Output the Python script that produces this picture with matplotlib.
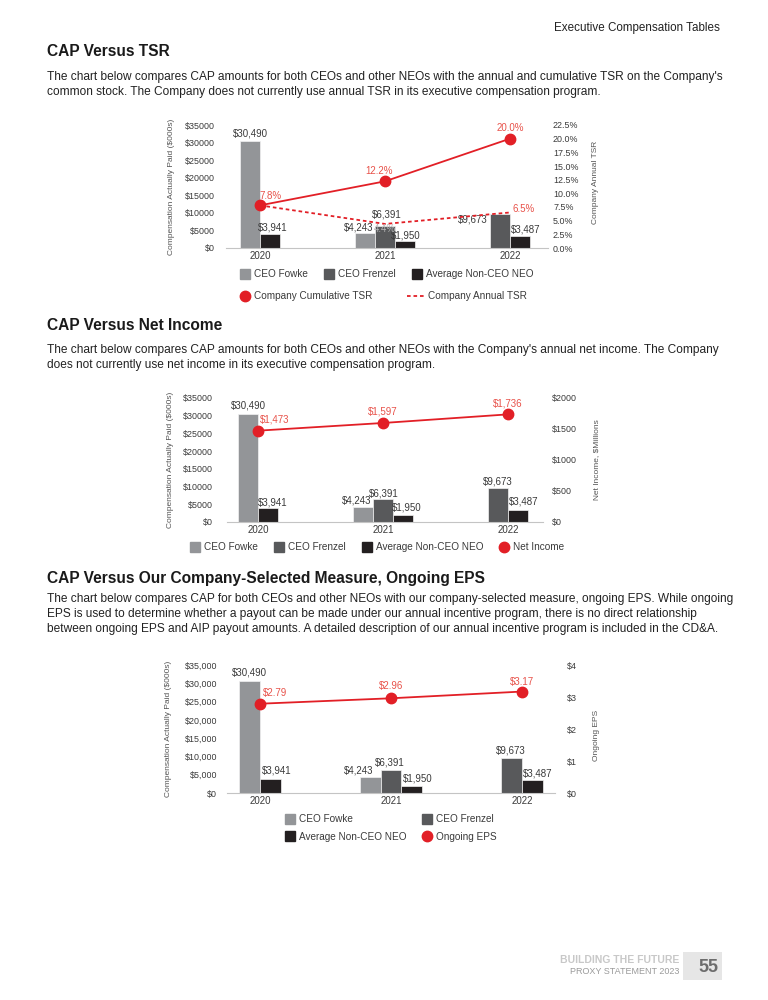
"""
CAP versus TSR / Net Income / Ongoing EPS - proxy statement page.
"""

import matplotlib
matplotlib.use("Agg")
import matplotlib.pyplot as plt
from matplotlib.lines import Line2D
from matplotlib.ticker import FuncFormatter
from matplotlib.transforms import blended_transform_factory
import numpy as np

# ---- data ----
years = ["2020", "2021", "2022"]
ceo_fowke = [30490, 4243, None]
ceo_frenzel = [None, 6391, 9673]
avg_non_ceo = [3941, 1950, 3487]

tsr_cumulative = [7.8, 12.2, 20.0]
tsr_annual = [7.8, 4.4, 6.5]
net_income = [1473, 1597, 1736]
ongoing_eps = [2.79, 2.96, 3.17]

# ---- style ----
C_FOWKE = "#939598"
C_FRENZEL = "#58595b"
C_NEO = "#231f20"
C_RED = "#e21f26"
C_RED_TXT = "#e8524a"
C_TXT = "#3a3a3a"
C_AXIS = "#c4c4c4"

plt.rcParams["font.family"] = ["Liberation Sans", "DejaVu Sans"]

FIG_W, FIG_H = 768, 1000
BAR_W = 0.16
SERIES = [
    ("CEO Fowke", ceo_fowke, C_FOWKE),
    ("CEO Frenzel", ceo_frenzel, C_FRENZEL),
    ("Average Non-CEO NEO", avg_non_ceo, C_NEO),
]


def pt(px):
    return px * 72 / 100


def px_rect(x0, x1, ytop, ybot):
    return [x0 / FIG_W, 1 - ybot / FIG_H, (x1 - x0) / FIG_W, (ybot - ytop) / FIG_H]


def fx(px):
    return px / FIG_W


def fy(py):
    return 1 - py / FIG_H


def setup_axes(fig, rect, xlim, left_fmt, left_pad, ylabel_x):
    ax = fig.add_axes(rect)
    ax.set_facecolor("none")
    ax.set_xlim(*xlim)
    ax.set_ylim(0, 35000)
    ax.set_yticks(np.arange(0, 35001, 5000))
    ax.yaxis.set_major_formatter(FuncFormatter(left_fmt))
    ax.set_xticks(np.arange(len(years)))
    ax.set_xticklabels(years)
    for s in ["top", "left", "right"]:
        ax.spines[s].set_visible(False)
    ax.spines["bottom"].set_color(C_AXIS)
    ax.spines["bottom"].set_linewidth(0.8)
    ax.tick_params(axis="x", length=0, pad=2, labelsize=7, labelcolor=C_TXT)
    ax.tick_params(axis="y", length=0, pad=pt(left_pad), labelsize=6.4, labelcolor=C_TXT)
    ax.set_ylabel("Compensation Actually Paid ($000s)", fontsize=6, color="#555555")
    ax.yaxis.set_label_coords(fx(ylabel_x), 0.5,
                              transform=blended_transform_factory(fig.transFigure, ax.transAxes))
    return ax


def draw_bars(ax, shifts):
    x = np.arange(len(years))
    for j in range(len(years)):
        present = [i for i, s in enumerate(SERIES) if s[1][j] is not None]
        n = len(present)
        for k, i in enumerate(present):
            v = SERIES[i][1][j]
            xpos = x[j] + (k - (n - 1) / 2) * BAR_W
            ax.bar(xpos, v, BAR_W, color=SERIES[i][2], edgecolor="#f2f2f2",
                   linewidth=0.5, zorder=2)
            dx, dy = shifts.get((i, j), (0, 0))
            ax.annotate(f"${v:,}", (xpos, v), xytext=(pt(dx), pt(7 + dy)),
                        textcoords="offset points", ha="center", va="center",
                        fontsize=7, color=C_TXT, zorder=5)


def setup_right(ax, ylim, ticks, fmt, pad, label, label_x, label_y=0.5):
    ax2 = ax.twinx()
    ax2.set_ylim(*ylim)
    ax2.set_yticks(ticks)
    ax2.yaxis.set_major_formatter(FuncFormatter(fmt))
    for s in ax2.spines.values():
        s.set_visible(False)
    ax2.tick_params(axis="y", length=0, pad=pt(pad), labelsize=6.4, labelcolor=C_TXT)
    ax2.set_ylabel(label, fontsize=6, color="#555555")
    ax2.yaxis.set_label_coords(fx(label_x), label_y,
                               transform=blended_transform_factory(ax.figure.transFigure, ax.transAxes))
    return ax2


def label_points(ax, values, fmt, offsets, color=C_RED_TXT):
    for j, v in enumerate(values):
        if offsets[j] is None:
            continue
        dx, dy, c = offsets[j] if len(offsets[j]) == 3 else (*offsets[j], color)
        ax.annotate(fmt(v), (j, v), xytext=(pt(dx), pt(dy)), textcoords="offset points",
                    ha="center", va="center", fontsize=7, color=c, zorder=6)


def sq(c):
    return Line2D([], [], marker="s", ls="none", color=c, markersize=7.5)


def dot():
    return Line2D([], [], marker="o", ls="none", color=C_RED, markersize=7.5)


def add_legend(fig, handles, labels, x, y, ncol, colspace, rowspace=0.5, hlen=1.0):
    fig.legend(handles, labels, loc="center left", bbox_to_anchor=(fx(x), fy(y)),
               bbox_transform=fig.transFigure, ncol=ncol, frameon=False,
               fontsize=7.2, labelcolor=C_TXT, handlelength=hlen, handletextpad=0.4,
               columnspacing=colspace, labelspacing=rowspace, borderaxespad=0,
               borderpad=0)


fig = plt.figure(figsize=(FIG_W / 100, FIG_H / 100), dpi=100)
fig.patch.set_facecolor("white")

# ---- page text ----
fig.text(fx(720), fy(28), "Executive Compensation Tables", ha="right", va="center",
         fontsize=8.4, color="#222222")

headings = [
    (52, "CAP Versus TSR"),
    (325, "CAP Versus Net Income"),
    (578, "CAP Versus Our Company-Selected Measure, Ongoing EPS"),
]
for y, t in headings:
    fig.text(fx(47), fy(y), t, ha="left", va="center", fontsize=11.2,
             fontweight="bold", color="#1a1a1a")

paragraphs = [
    (77, ["The chart below compares CAP amounts for both CEOs and other NEOs with the annual and cumulative TSR on the Company's",
          "common stock. The Company does not currently use annual TSR in its executive compensation program."]),
    (350, ["The chart below compares CAP amounts for both CEOs and other NEOs with the Company's annual net income. The Company",
           "does not currently use net income in its executive compensation program."]),
    (599, ["The chart below compares CAP for both CEOs and other NEOs with our company-selected measure, ongoing EPS. While ongoing",
           "EPS is used to determine whether a payout can be made under our annual incentive program, there is no direct relationship",
           "between ongoing EPS and AIP payout amounts. A detailed description of our annual incentive program is included in the CD&A."]),
]
for y0, lines in paragraphs:
    for k, line in enumerate(lines):
        fig.text(fx(47), fy(y0 + 14.8 * k), line, ha="left", va="center",
                 fontsize=8.6, color="#222222")

x = np.arange(len(years))

# ---- chart 1: CAP vs TSR ----
ax1 = setup_axes(fig, px_rect(226, 548, 125, 248), (-0.272, 2.304),
                 lambda v, p: f"${v:.0f}", 11, 175)
draw_bars(ax1, {(2, 0): (3, 0), (0, 1): (-6, -1), (1, 1): (2, 4.5), (2, 1): (1, -1),
                (1, 2): (-27, -12), (2, 2): (6, -1)})
ax1r = setup_right(ax1, (0, 22.5), np.arange(0, 22.51, 2.5), lambda v, p: f"{v:.1f}%",
                   5, "Company Annual TSR", 592, 0.53)
ax1r.plot(x, tsr_annual, color=C_RED, lw=1.3, ls=(0, (2, 1.6)), zorder=3)
ax1r.plot(x, tsr_cumulative, color=C_RED, lw=1.3, marker="o", markersize=7.5, zorder=4)
label_points(ax1r, tsr_cumulative, lambda v: f"{v:.1f}%", [(11, 9), (-6, 10), (0, 11)])
label_points(ax1r, tsr_annual, lambda v: f"{v:.1f}%", [None, (0, -5, "#b5b5b5"), (14, 3)])

add_legend(fig, [sq(C_FOWKE), sq(C_FRENZEL), sq(C_NEO)],
           ["CEO Fowke", "CEO Frenzel", "Average Non-CEO NEO"], 240, 274, 3, 1.6)
add_legend(fig, [dot()], ["Company Cumulative TSR"], 240, 296, 1, 1.0)
add_legend(fig, [Line2D([], [], color=C_RED, lw=1.3, ls=(0, (2, 1.6)))],
           ["Company Annual TSR"], 407, 296, 1, 1.0, hlen=1.7)

# ---- chart 2: CAP vs Net Income ----
ax2 = setup_axes(fig, px_rect(227, 543, 398, 522), (-0.248, 2.28),
                 lambda v, p: f"${v:.0f}", 14, 174)
draw_bars(ax2, {(0, 0): (0, 1), (2, 0): (5, -1), (0, 1): (-6, -1), (1, 1): (1, -1),
                (2, 1): (4, 1), (1, 2): (0, -1), (2, 2): (6, 1)})
ax2r = setup_right(ax2, (0, 2000), np.arange(0, 2001, 500), lambda v, p: f"${v:.0f}",
                   9, "Net Income, $Millions", 593, 0.5)
ax2r.plot(x, net_income, color=C_RED, lw=1.3, marker="o", markersize=7.5, zorder=4)
label_points(ax2r, net_income, lambda v: f"${v:,}", [(17, 11), (0, 11), (0, 11)])

add_legend(fig, [sq(C_FOWKE), sq(C_FRENZEL), sq(C_NEO), dot()],
           ["CEO Fowke", "CEO Frenzel", "Average Non-CEO NEO", "Net Income"],
           190, 547, 4, 1.6)

# ---- chart 3: CAP vs Ongoing EPS ----
ax3 = setup_axes(fig, px_rect(227, 555, 665, 793), (-0.252, 2.252),
                 lambda v, p: f"${v:,.0f}", 10, 172)
draw_bars(ax3, {(0, 0): (0, 1.5), (2, 0): (6, 1.5), (0, 1): (-11, -0.5), (1, 1): (-1, 0),
                (2, 1): (6, 0), (1, 2): (-1, 0.6), (2, 2): (5, 0)})
ax3r = setup_right(ax3, (0, 4), np.arange(0, 4.01, 1), lambda v, p: f"${v:.0f}",
                   12, "Ongoing EPS", 593, 0.45)
ax3r.plot(x, ongoing_eps, color=C_RED, lw=1.3, marker="o", markersize=7.5, zorder=4)
label_points(ax3r, ongoing_eps, lambda v: f"${v:.2f}", [(15, 11), (0, 12), (0, 10)])

add_legend(fig, [sq(C_FOWKE), sq(C_NEO), sq(C_FRENZEL), dot()],
           ["CEO Fowke", "Average Non-CEO NEO", "CEO Frenzel", "Ongoing EPS"],
           285, 828, 2, 1.5, rowspace=0.7)

# ---- footer ----
fig.text(fx(679), fy(960), "BUILDING THE FUTURE", ha="right", va="center",
         fontsize=7.5, fontweight="bold", color="#c8c8c8")
fig.text(fx(679), fy(972), "PROXY STATEMENT 2023", ha="right", va="center",
         fontsize=6.5, color="#9a9a9a")
fig.patches.append(plt.Rectangle((fx(683), fy(980)), fx(722) - fx(683), fy(952) - fy(980),
                                 transform=fig.transFigure, facecolor="#e6e6e6",
                                 edgecolor="none"))
fig.text(fx(708), fy(967), "55", ha="center", va="center", fontsize=13,
         fontweight="bold", color="#6d6d6d")

fig.savefig("out.png", dpi=100, facecolor="white")
